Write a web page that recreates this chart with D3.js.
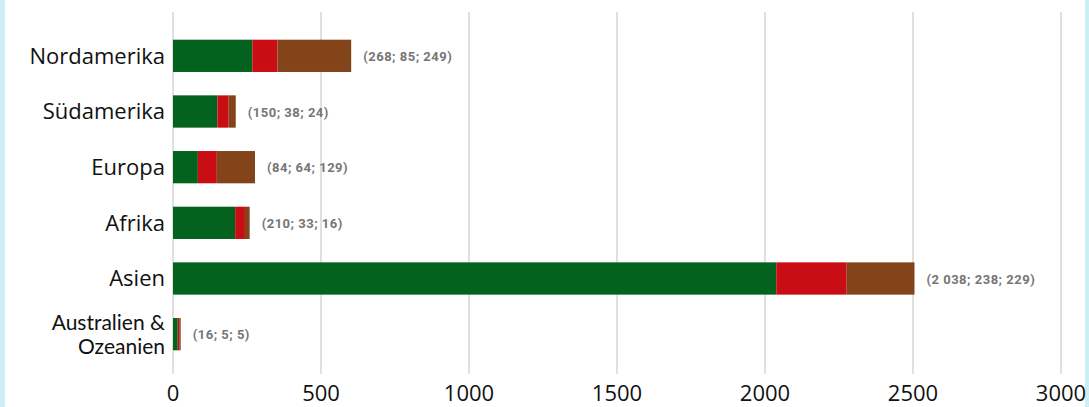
<!DOCTYPE html>
<html>
<head>
<meta charset="utf-8">
<script src="https://cdn.jsdelivr.net/npm/d3@7"></script>
<style>
  body { margin: 0; background: #cdeef2; }
  #chart { display: block; }
</style>
</head>
<body>
<svg id="chart" width="1089" height="407"></svg>
<script>
// Continents (two-line label for the last one)
const regions = ["Nordamerika", "Südamerika", "Europa", "Afrika", "Asien", "Australien &\nOzeanien"];
// Three stacked parts per region
const partA = [268, 150, 84, 210, 2038, 16];
const partB = [85, 38, 64, 33, 238, 5];
const partC = [249, 24, 129, 16, 229, 5];
const valueLabels = ["(268; 85; 249)", "(150; 38; 24)", "(84; 64; 129)", "(210; 33; 16)", "(2 038; 238; 229)", "(16; 5; 5)"];
const xTicks = [0, 500, 1000, 1500, 2000, 2500, 3000];
const colors = ["#04621f", "#c80d14", "#83441a"];

const svg = d3.select("#chart");

// white panel between the cyan strips
svg.append("rect")
    .attr("x", 5).attr("y", 0)
    .attr("width", 1080).attr("height", 407)
    .attr("fill", "#ffffff");

const x = d3.scaleLinear().domain([0, 3000]).range([173, 1061]);
const y = d3.scaleBand().domain(regions).range([28, 362]).paddingInner(0.42).paddingOuter(0.21);

// gridlines
svg.append("g")
    .selectAll("line")
    .data(xTicks)
    .enter()
    .append("line")
    .attr("x1", d => x(d)).attr("x2", d => x(d))
    .attr("y1", 12).attr("y2", 374)
    .attr("stroke", "#e0e0e0")
    .attr("stroke-width", 2);

// stacked bars
const rows = regions.map((r, i) => ({ region: r, a: partA[i], b: partB[i], c: partC[i] }));
const stack = d3.stack().keys(["a", "b", "c"])(rows);

svg.append("g")
    .selectAll("g")
    .data(stack)
    .enter()
    .append("g")
    .attr("fill", (d, i) => colors[i])
    .selectAll("rect")
    .data(d => d)
    .enter()
    .append("rect")
    .attr("x", d => x(d[0]))
    .attr("y", d => y(d.data.region))
    .attr("width", d => x(d[1]) - x(d[0]))
    .attr("height", y.bandwidth());

// value labels at bar end
svg.append("g")
    .selectAll("text")
    .data(rows)
    .enter()
    .append("text")
    .attr("x", d => x(d.a + d.b + d.c) + 12)
    .attr("y", d => y(d.region) + y.bandwidth() / 2 + 5)
    .attr("font-family", "Roboto, sans-serif")
    .attr("font-size", "13px")
    .attr("font-weight", "bold")
    .attr("letter-spacing", "0.5px")
    .attr("fill", "#767676")
    .text((d, i) => valueLabels[i]);

// category labels, one text per line so wrapped labels stay separate
const catG = svg.append("g");
regions.forEach(r => {
    const lines = r.split("\n");
    const cy = y(r) + y.bandwidth() / 2;
    const multi = lines.length > 1;
    const gap = 24;
    lines.forEach((ln, k) => {
        catG.append("text")
            .attr("x", 165)
            .attr("y", cy + (k - (lines.length - 1) / 2) * gap)
            .attr("dy", "0.35em")
            .attr("text-anchor", "end")
            .attr("font-family", multi ? "Lato, sans-serif" : "'Open Sans', sans-serif")
            .attr("font-size", multi ? "21px" : "22px")
            .attr("fill", "#111")
            .text(ln);
    });
});

// x tick labels
svg.append("g")
    .selectAll("text")
    .data(xTicks)
    .enter()
    .append("text")
    .attr("x", d => x(d))
    .attr("y", 401)
    .attr("text-anchor", "middle")
    .attr("font-family", "'Open Sans', sans-serif")
    .attr("font-size", "22px")
    .attr("fill", "#111")
    .text(d => d);
</script>
</body>
</html>
